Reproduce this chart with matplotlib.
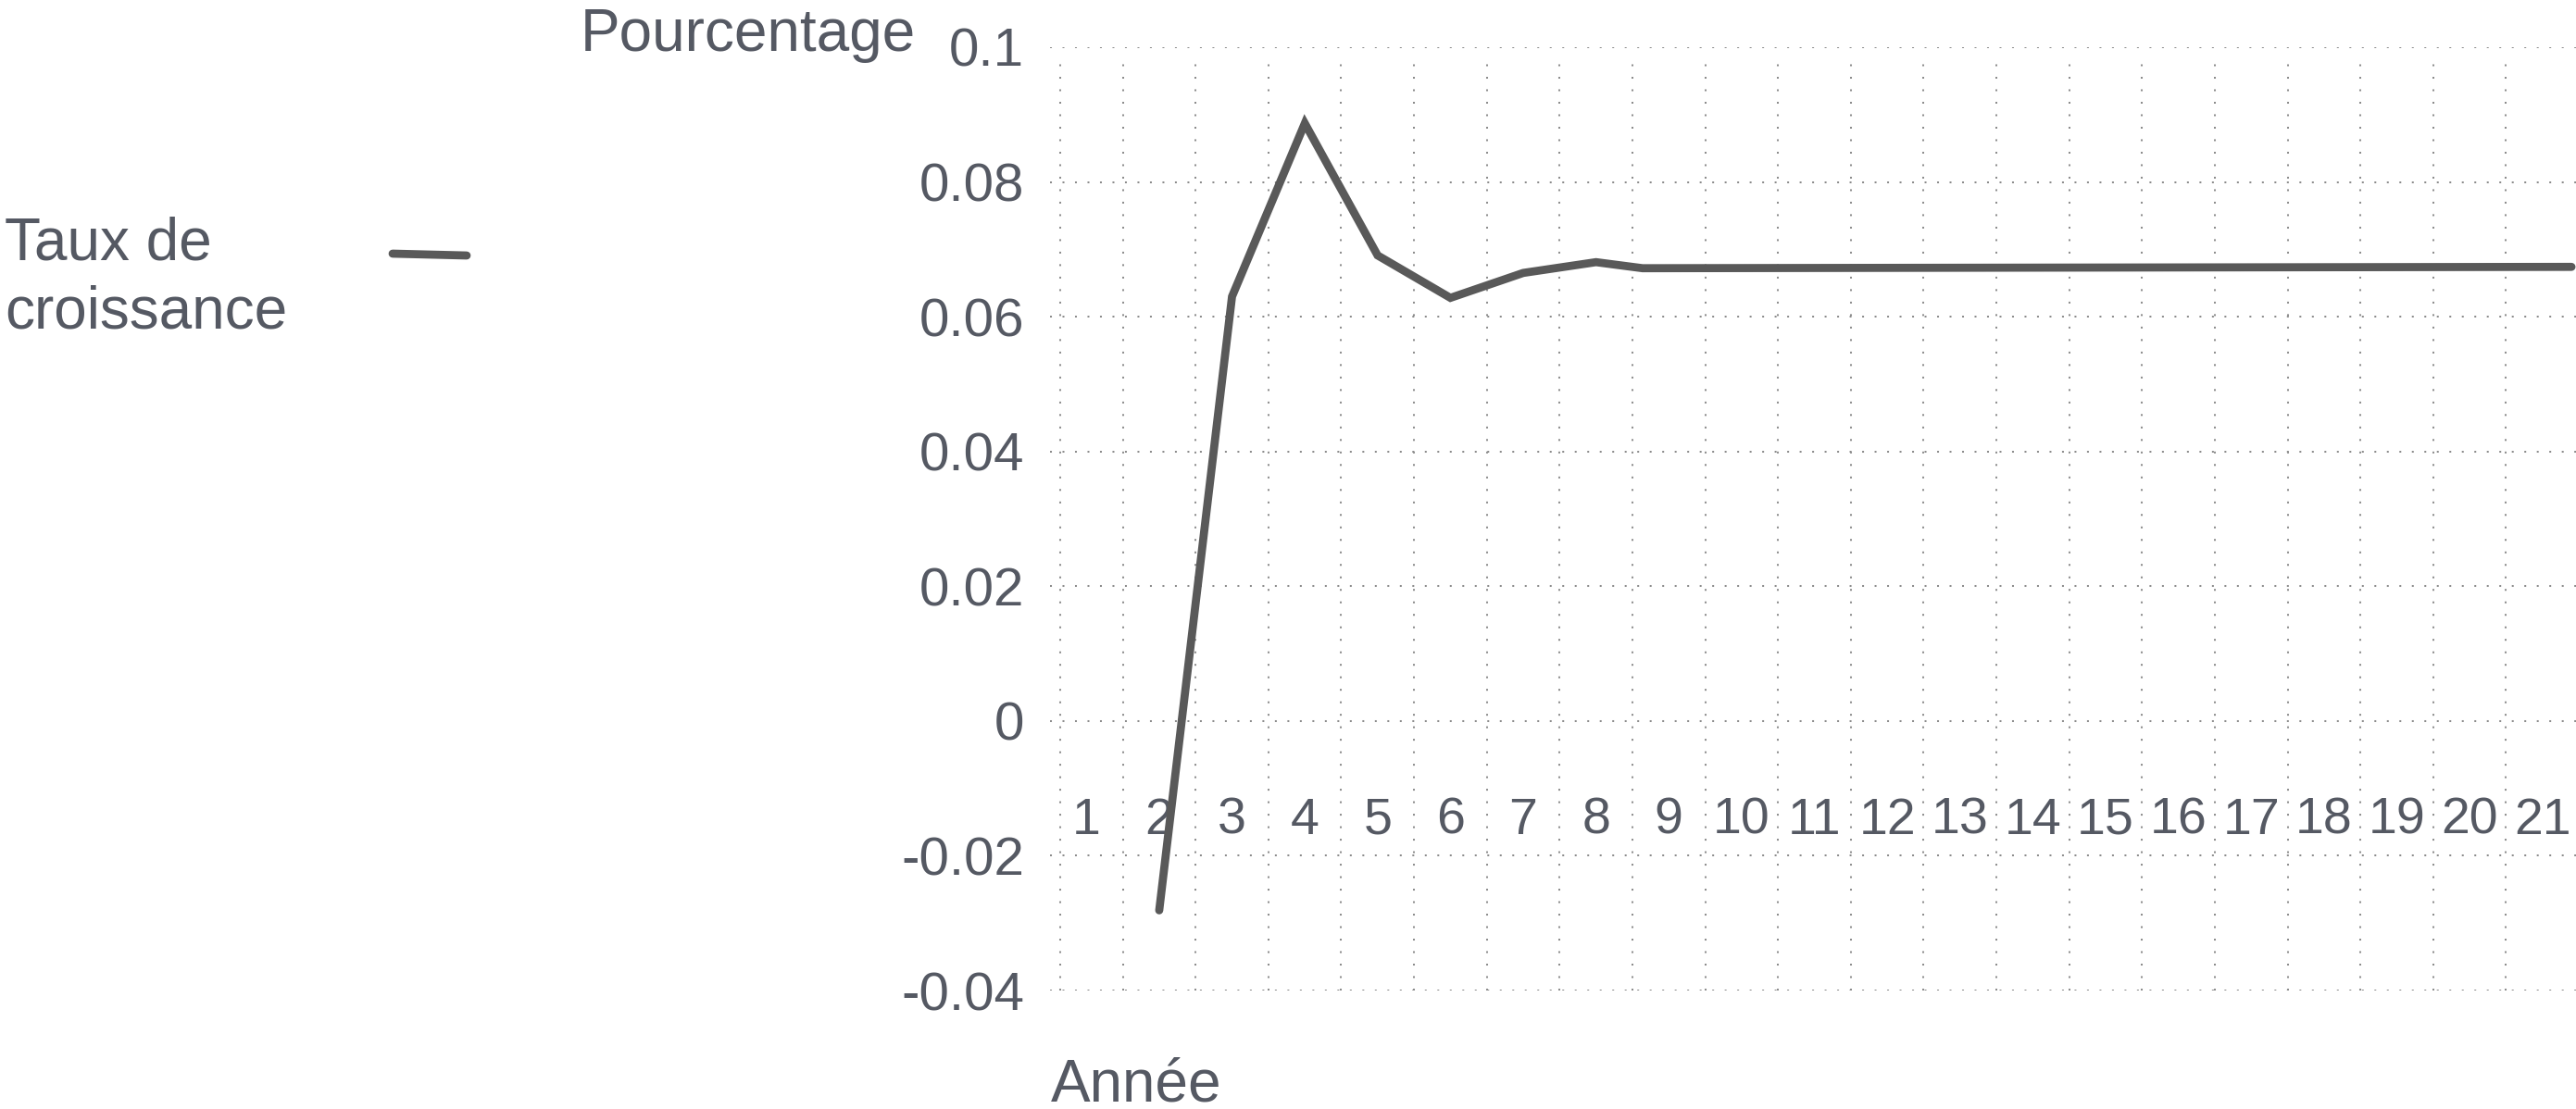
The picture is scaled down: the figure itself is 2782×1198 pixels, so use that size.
import numpy as np
import matplotlib
matplotlib.use("Agg")
import matplotlib.pyplot as plt

# donnees
annees = [str(i) for i in range(1, 22)]
taux_x = [2, 3, 4, 5, 6, 7, 8, 8.64, 21.4]
taux_y = [-0.0281, 0.0630, 0.0887, 0.0691, 0.0628, 0.0665, 0.0681, 0.0672, 0.0674]
y_ticks = [0.1, 0.08, 0.06, 0.04, 0.02, 0, -0.02, -0.04]
y_labels = ["0.1", "0.08", "0.06", "0.04", "0.02", "0", "-0.02", "-0.04"]

TEXT = "#555963"
LINE = "#595959"
GRID = "#8c8c8c"
FONT = "Liberation Sans"

plt.rcParams['font.family'] = [FONT, 'DejaVu Sans']

W, H = 2782, 1198
fig = plt.figure(figsize=(W / 100, H / 100), dpi=100)

left = 1134 / W
right = 2785 / W
top = 1 - 51 / H
bottom = 1 - 1070 / H
ax = fig.add_axes([left, bottom, right - left, top - bottom])
ax.set_xlim(0.5, len(annees) + 0.5)
ax.set_ylim(-0.04, 0.1)

for s in ax.spines.values():
    s.set_visible(False)

dots = (0, (1, 5.7))
# grille horizontale
for v in y_ticks:
    ax.axhline(v, color=GRID, lw=1.45, ls=dots, zorder=1)
# grille verticale entre les categories
bounds = np.arange(1.5, len(annees), 1.0)
ax.vlines(bounds, -0.04, 0.0978, color=GRID, lw=1.45, linestyles=[dots], zorder=1)
ax.vlines([0.64], -0.04, 0.0989, color=GRID, lw=1.45, linestyles=[dots], zorder=1)

line, = ax.plot(taux_x, taux_y, color=LINE, lw=6.3, solid_capstyle='round',
                solid_joinstyle='miter', zorder=3)

# axe des x au niveau de zero
ax.spines['bottom'].set_position(('data', 0))
ax.set_xticks(range(1, len(annees) + 1))
ax.set_xticklabels(annees)
ax.tick_params(axis='x', length=0, pad=59, labelsize=40, labelcolor=TEXT)
ax.set_yticks(y_ticks)
ax.set_yticklabels(y_labels)
ax.tick_params(axis='y', length=0, pad=20, labelsize=42, labelcolor=TEXT)

fig.text(627 / W, 1 - 55 / H, "Pourcentage", fontsize=46, color=TEXT,
         ha='left', va='baseline')
fig.text(1135 / W, 1 - 1190 / H, "Année", fontsize=46, color=TEXT,
         ha='left', va='baseline')

# legende a gauche
fig.text(5 / W, 1 - 355 / H, "Taux de\ncroissance", fontsize=46, color=TEXT,
         ha='left', va='baseline', linespacing=1.3)
fig.lines.append(matplotlib.lines.Line2D([424 / W, 504 / W], [1 - 274 / H, 1 - 276 / H],
                                         transform=fig.transFigure, color=LINE, lw=6.3,
                                         solid_capstyle='round'))

fig.savefig("out.png", dpi=100)
